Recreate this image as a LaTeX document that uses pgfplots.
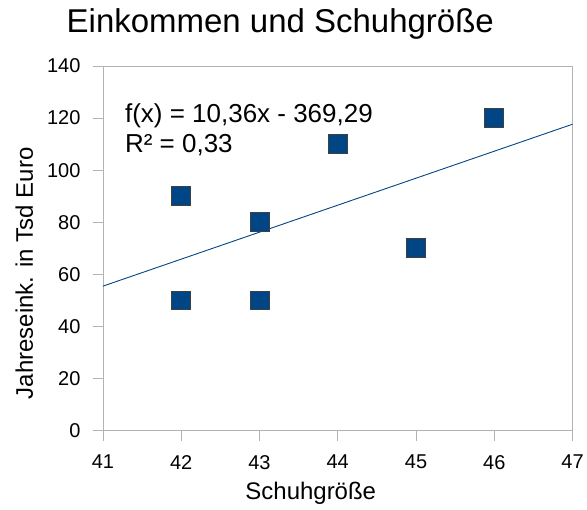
\documentclass[border=0pt]{standalone}
\usepackage{fontspec}
\setmainfont{Liberation Sans}
\usepackage{pgfplots}
\pgfplotsset{compat=1.18}
\definecolor{lblue}{HTML}{004586}
\definecolor{fgray}{HTML}{B3B3B3}
\begin{document}
\begin{tikzpicture}[x=1pt,y=1pt]
\path (0,0) rectangle (587,510);
\begin{axis}[at={(103pt,79pt)}, anchor=south west,
  width=470pt, height=365pt, scale only axis,
  xmin=41, xmax=47, ymin=0, ymax=140,
  xtick={41,42,43,44,45,46,47}, ytick={0,20,40,60,80,100,120,140},
  axis line style={fgray, line width=0.8pt},
  tick style={fgray, line width=0.8pt},
  tick align=outside, major tick length=10pt,
  xtick pos=bottom, ytick pos=left,
  ticklabel style={font=\fontsize{20}{24}\selectfont, text=black},
  xticklabel style={yshift=-11pt},
  yticklabel style={xshift=-9pt},
  /pgf/number format/assume math mode=true,
  clip=false]
\addplot[lblue, line width=0.9pt] coordinates {(41,55.47) (47,117.63)};
\addplot[only marks, mark=square*, mark size=9.5pt,
  mark options={fill=lblue, draw=black!75, line width=0.8pt}]
  coordinates {(42,90) (42,50) (43,80) (43,50) (44,110) (45,70) (46,120)};
\end{axis}
\node[anchor=base, font=\fontsize{33}{38}\selectfont] at (280.5,477) {Einkommen und Schuhgröße};
\node[anchor=base, font=\fontsize{24}{28}\selectfont] at (311,10) {Schuhgröße};
\node[anchor=base, rotate=90, font=\fontsize{24}{28}\selectfont] at (33,236.5) {Jahreseink. in Tsd Euro};
\node[anchor=base west, inner sep=0pt, font=\fontsize{26}{30}\selectfont] at (125,387) {f(x) = 10,36x - 369,29};
\node[anchor=base west, inner sep=0pt, font=\fontsize{26}{30}\selectfont] at (125,357) {R² = 0,33};
\end{tikzpicture}
\end{document}
